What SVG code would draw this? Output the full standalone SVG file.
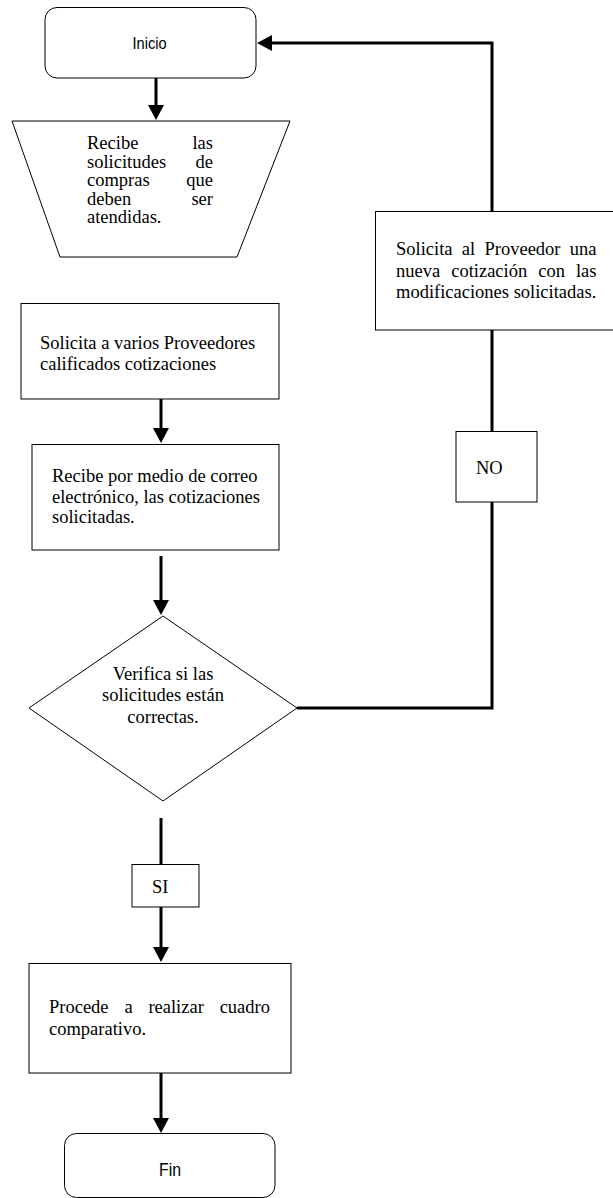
<svg xmlns="http://www.w3.org/2000/svg" width="613" height="1198" viewBox="0 0 613 1198">
  <style>
    .shape { fill: #ffffff; stroke: #000000; stroke-width: 1; }
    .conn { fill: none; stroke: #000000; stroke-width: 3; }
    .serif { font-family: "Liberation Serif", "Times New Roman", serif; font-size: 18.5px; fill: #000000; }
    .sans { font-family: "Liberation Sans", Arial, sans-serif; fill: #000000; }
    .end { text-anchor: end; }
    .mid { text-anchor: middle; }
  </style>
  <defs>
    <marker id="arrow" markerUnits="userSpaceOnUse" markerWidth="16" markerHeight="16" refX="0" refY="8" orient="auto">
      <path d="M0,0 L15,8 L0,16 z" fill="#000000"/>
    </marker>
  </defs>

  <rect width="613" height="1198" fill="#ffffff"/>

  <!-- connectors -->
  <g id="connectors">
    <line class="conn" x1="156" y1="78" x2="156" y2="105" marker-end="url(#arrow)"/>
    <line class="conn" x1="161" y1="399" x2="161" y2="428" marker-end="url(#arrow)"/>
    <line class="conn" x1="161" y1="556" x2="161" y2="600" marker-end="url(#arrow)"/>
    <polyline class="conn" points="297,708 492,708 492,43 272,43" marker-end="url(#arrow)"/>
    <line class="conn" x1="161" y1="818" x2="161" y2="864"/>
    <line class="conn" x1="161" y1="907" x2="161" y2="947" marker-end="url(#arrow)"/>
    <line class="conn" x1="161" y1="1073" x2="161" y2="1118" marker-end="url(#arrow)"/>
  </g>

  <!-- start -->
  <g id="inicio">
    <rect class="shape" x="45" y="7.5" width="211" height="70.5" rx="12" ry="12"/>
    <text class="sans" x="132.5" y="49" font-size="16.5" textLength="34" lengthAdjust="spacingAndGlyphs">Inicio</text>
  </g>

  <!-- manual input: receive requests -->
  <g id="recibe-solicitudes">
    <polygon class="shape" points="12,121 290,121 237,257 60,257"/>
    <text class="serif" x="87" y="149">Recibe</text>
    <text class="serif end" x="213" y="149">las</text>
    <text class="serif" x="87" y="167.5">solicitudes</text>
    <text class="serif end" x="213" y="167.5">de</text>
    <text class="serif" x="87" y="186">compras</text>
    <text class="serif end" x="213" y="186">que</text>
    <text class="serif" x="87" y="204.5">deben</text>
    <text class="serif end" x="213" y="204.5">ser</text>
    <text class="serif" x="87" y="223">atendidas.</text>
  </g>

  <!-- request quotes -->
  <g id="solicita-cotizaciones">
    <rect class="shape" x="21" y="303.5" width="258" height="95.5"/>
    <text class="serif" x="40" y="349">Solicita a varios Proveedores</text>
    <text class="serif" x="40" y="370">calificados cotizaciones</text>
  </g>

  <!-- receive quotes -->
  <g id="recibe-cotizaciones">
    <rect class="shape" x="32" y="444.5" width="247" height="105.5"/>
    <text class="serif" x="52" y="482">Recibe por medio de correo</text>
    <text class="serif" x="52" y="502.5">electrónico, las cotizaciones</text>
    <text class="serif" x="52" y="523">solicitadas.</text>
  </g>

  <!-- decision -->
  <g id="verifica">
    <polygon class="shape" points="163,616 297,708 163,801 29,708"/>
    <text class="serif mid" x="163" y="680">Verifica si las</text>
    <text class="serif mid" x="163" y="701">solicitudes están</text>
    <text class="serif mid" x="163" y="722.5">correctas.</text>
  </g>

  <!-- new quote request (justified lines, word by word) -->
  <g id="nueva-cotizacion">
    <rect class="shape" x="375.5" y="211.5" width="250" height="118.5"/>
    <text class="serif" x="396" y="255">Solicita</text>
    <text class="serif" x="461.8" y="255">al</text>
    <text class="serif" x="484.5" y="255">Proveedor</text>
    <text class="serif end" x="596.5" y="255">una</text>
    <text class="serif" x="396" y="276.5">nueva</text>
    <text class="serif" x="451.2" y="276.5">cotización</text>
    <text class="serif" x="538.2" y="276.5">con</text>
    <text class="serif end" x="596.5" y="276.5">las</text>
    <text class="serif" x="396" y="297.5">modificaciones solicitadas.</text>
  </g>

  <!-- NO label -->
  <g id="label-no">
    <rect class="shape" x="456" y="431.5" width="81" height="70.5"/>
    <text class="serif" x="476" y="474">NO</text>
  </g>

  <!-- SI label -->
  <g id="label-si">
    <rect class="shape" x="132" y="864.5" width="67" height="42.5"/>
    <text class="serif" x="152" y="893">SI</text>
  </g>

  <!-- comparison -->
  <g id="cuadro-comparativo">
    <rect class="shape" x="29" y="963.5" width="262" height="109.5"/>
    <text class="serif" x="49" y="1013">Procede</text>
    <text class="serif" x="124.4" y="1013">a</text>
    <text class="serif" x="148.4" y="1013">realizar</text>
    <text class="serif end" x="270" y="1013">cuadro</text>
    <text class="serif" x="49" y="1035">comparativo.</text>
  </g>

  <!-- end -->
  <g id="fin">
    <rect class="shape" x="64.5" y="1133.5" width="210.5" height="64" rx="12" ry="12"/>
    <text class="sans" x="159" y="1175.5" font-size="19" textLength="22" lengthAdjust="spacingAndGlyphs">Fin</text>
  </g>
</svg>
